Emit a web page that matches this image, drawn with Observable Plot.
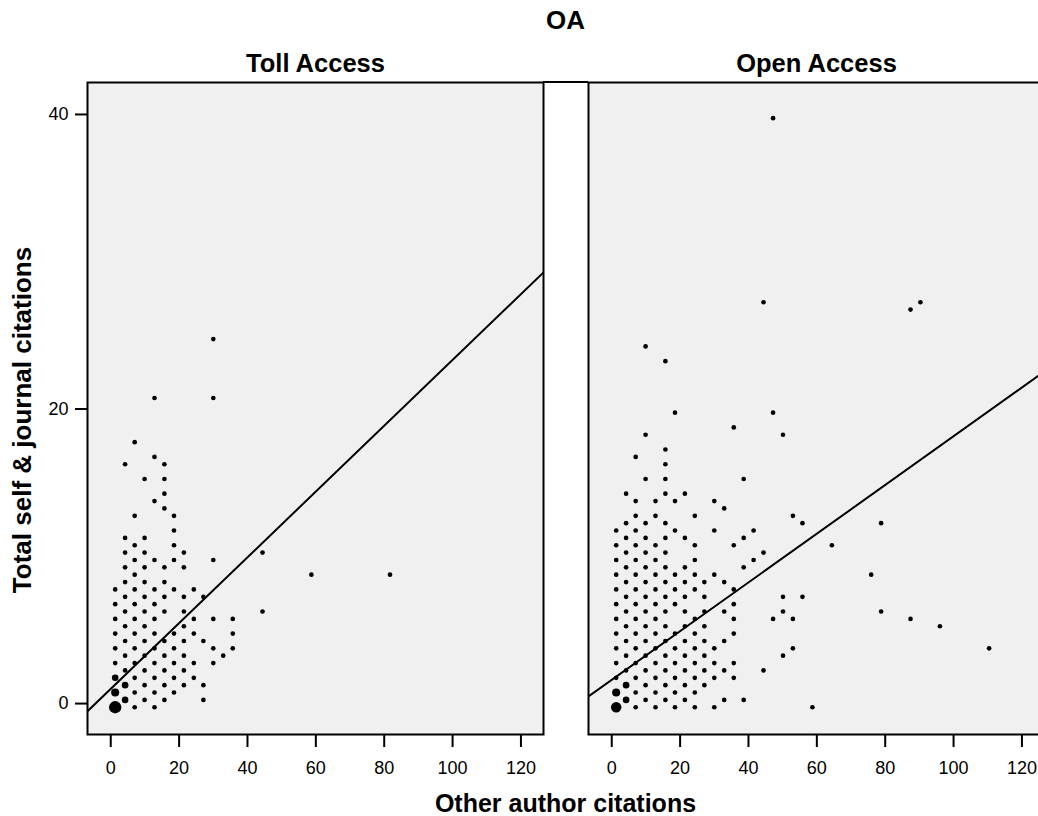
<!DOCTYPE html>
<html>
<head>
<meta charset="utf-8">
<script src="https://cdn.jsdelivr.net/npm/d3@7"></script>
<script src="https://cdn.jsdelivr.net/npm/@observablehq/plot@0.6"></script>
<style>
  body { margin: 0; background: #fff; font-family: "Liberation Sans", Arial, sans-serif; }
  #wrap { position: relative; width: 1038px; height: 816px; overflow: hidden; background: #fff; }
  .lbl { position: absolute; font-weight: bold; font-size: 25.5px; text-align: center; color: #000; white-space: nowrap; }
  #title { left: 87px; width: 957px; top: 8px; line-height: 24px; font-size: 26px; }
  #xlabel { left: 87px; width: 957px; top: 793px; line-height: 20px; font-size: 25px; }
  #ylabel { left: -308px; width: 660px; top: 407px; line-height: 26px; font-size: 26px; transform: rotate(-90deg); }
  #chart { position: absolute; left: 0; top: 40px; width: 1044px; }
  #chart svg { max-width: none !important; width: 1044px !important; height: 745px !important; }
  #joint { position: absolute; left: 543px; top: 81px; width: 45px; height: 2px; background: #000; }
  #chart svg [aria-label="x-axis tick"], #chart svg [aria-label="y-axis tick"] { stroke-width: 2; }
</style>
</head>
<body>
<div id="wrap">
  <div id="title" class="lbl">OA</div>
  <div id="chart"></div>
  <div id="joint"></div>
  <div id="xlabel" class="lbl">Other author citations</div>
  <div id="ylabel" class="lbl">Total self &amp; journal citations</div>
</div>
<script>
// Facet categories
const groups = ["Toll Access", "Open Access"];

// Tick labels
const xTicks = [0, 20, 40, 60, 80, 100, 120];
const yTicks = [0, 20, 40];

// Toll Access: each row is [y value, list of x values of the dots on that row]
const tollRows = [
  [-0.25, [1.3, 7.0, 12.8]],
  [0.25, [4.2, 9.9, 15.7, 27.1]],
  [0.75, [1.3, 7.0, 12.8, 18.5]],
  [1.25, [4.2, 9.9, 15.7, 21.4, 27.1]],
  [1.75, [1.3, 7.0, 12.8, 18.5, 24.3]],
  [2.25, [4.2, 9.9, 15.7, 21.4]],
  [2.75, [1.3, 7.0, 12.8, 18.5, 24.3, 30.0]],
  [3.25, [4.2, 9.9, 15.7, 21.4, 32.9]],
  [3.75, [1.3, 7.0, 12.8, 18.5, 30.0, 35.7]],
  [4.25, [4.2, 9.9, 15.7, 21.4, 27.1]],
  [4.75, [1.3, 7.0, 12.8, 18.5, 24.3, 35.7]],
  [5.25, [4.2, 9.9, 21.4]],
  [5.75, [1.3, 7.0, 12.8, 24.3, 30.0, 35.7]],
  [6.25, [4.2, 9.9, 15.7, 21.4, 44.4]],
  [6.75, [1.3, 7.0, 12.8]],
  [7.25, [4.2, 9.9, 15.7, 21.4, 27.1]],
  [7.75, [1.3, 7.0, 12.8, 18.5, 24.3]],
  [8.25, [4.2, 9.9, 15.7]],
  [8.75, [7.0, 58.7, 81.7]],
  [9.25, [4.2, 9.9, 15.7, 21.4]],
  [9.75, [7.0, 12.8, 18.5, 30.0]],
  [10.25, [4.2, 9.9, 21.4, 44.4]],
  [10.75, [7.0, 18.5]],
  [11.25, [4.2, 9.9]],
  [11.75, [18.5]],
  [12.75, [7.0, 18.5]],
  [13.25, [15.7]],
  [13.75, [12.8]],
  [14.25, [15.7]],
  [15.25, [9.9, 15.7]],
  [16.25, [4.2, 15.7]],
  [16.75, [12.8]],
  [17.75, [7.0]],
  [20.75, [12.8, 30.0]],
  [24.75, [30.0]]
];

// Open Access rows
const openRows = [
  [-0.25, [1.3, 7.0, 12.8, 18.5, 24.3, 30.0, 58.7]],
  [0.25, [4.2, 9.9, 15.7, 21.4, 32.9, 38.6]],
  [0.75, [1.3, 7.0, 12.8, 18.5, 24.3]],
  [1.25, [4.2, 9.9, 15.7, 21.4, 27.1]],
  [1.75, [1.3, 7.0, 12.8, 18.5, 24.3, 30.0, 35.7]],
  [2.25, [4.2, 9.9, 15.7, 21.4, 27.1, 32.9, 44.4]],
  [2.75, [1.3, 7.0, 12.8, 18.5, 24.3, 30.0, 35.7]],
  [3.25, [4.2, 9.9, 15.7, 21.4, 27.1, 50.1]],
  [3.75, [1.3, 7.0, 12.8, 18.5, 24.3, 30.0, 53.0, 110.4]],
  [4.25, [4.2, 9.9, 15.7, 21.4, 27.1, 32.9]],
  [4.75, [1.3, 7.0, 12.8, 18.5, 24.3, 35.7]],
  [5.25, [4.2, 9.9, 15.7, 21.4, 27.1, 96.0]],
  [5.75, [1.3, 7.0, 12.8, 24.3, 35.7, 47.2, 53.0, 87.4]],
  [6.25, [4.2, 9.9, 15.7, 21.4, 27.1, 32.9, 50.1, 78.8]],
  [6.75, [1.3, 7.0, 12.8, 18.5, 35.7]],
  [7.25, [4.2, 9.9, 15.7, 21.4, 27.1, 50.1, 55.8]],
  [7.75, [1.3, 7.0, 12.8, 18.5, 24.3, 35.7]],
  [8.25, [4.2, 9.9, 15.7, 21.4, 27.1, 32.9]],
  [8.75, [1.3, 7.0, 12.8, 18.5, 24.3, 30.0, 75.9]],
  [9.25, [4.2, 9.9, 15.7, 21.4, 38.6]],
  [9.75, [1.3, 7.0, 12.8, 24.3, 41.5]],
  [10.25, [4.2, 9.9, 15.7, 44.4]],
  [10.75, [1.3, 7.0, 12.8, 24.3, 35.7, 64.4]],
  [11.25, [4.2, 9.9, 15.7, 21.4, 38.6]],
  [11.75, [1.3, 7.0, 18.5, 30.0, 41.5]],
  [12.25, [4.2, 9.9, 15.7, 55.8, 78.8]],
  [12.75, [7.0, 12.8, 24.3, 53.0]],
  [13.25, [32.9]],
  [13.75, [7.0, 12.8, 18.5, 30.0]],
  [14.25, [4.2, 15.7, 21.4]],
  [15.25, [9.9, 15.7, 38.6]],
  [16.25, [15.7]],
  [16.75, [7.0]],
  [17.25, [15.7]],
  [18.25, [9.9, 50.1]],
  [18.75, [35.7]],
  [19.75, [18.5, 47.2]],
  [23.25, [15.7]],
  [24.25, [9.9]],
  [26.75, [87.4]],
  [27.25, [44.4, 90.3]],
  [39.75, [47.2]]
];

// Dots standing for more than one article: [x, y, count]
const tollCounts = [[1.3, -0.25, 7], [1.3, 0.75, 3], [4.2, 0.25, 2], [4.2, 1.25, 2], [1.3, 1.75, 2]];
const openCounts = [[1.3, -0.25, 5], [1.3, 0.75, 3], [4.2, 0.25, 2], [4.2, 1.25, 2]];

// Fit lines
const fitIntercepts = [1.0, 1.61];
const fitSlopes = [0.2233, 0.1654];

const xDomain = [-6.8, 126.6];
const yDomain = [-2.1, 42.17];

function flatten(rows, counts, oa) {
  const out = [];
  for (const [y, xs] of rows) {
    for (const x of xs) {
      const c = counts.find(d => d[0] === x && d[1] === y);
      out.push({oa, x, y, n: c ? c[2] : 1});
    }
  }
  return out;
}
const points = [
  ...flatten(tollRows, tollCounts, groups[0]),
  ...flatten(openRows, openCounts, groups[1])
];
const fitPoints = groups.flatMap((oa, i) =>
  xDomain.map(x => ({oa, x, y: fitIntercepts[i] + fitSlopes[i] * x})));

const chart = Plot.plot({
  width: 1044,
  height: 745,
  marginLeft: 87,
  marginRight: 0,
  marginTop: 42,
  marginBottom: 51,
  style: {fontFamily: "Liberation Sans, Arial, sans-serif", fontSize: "18px", color: "black", background: "transparent", overflow: "visible", maxWidth: "none"},
  fx: {domain: groups, paddingInner: 0.0898, paddingOuter: 0, round: false, label: null},
  x: {domain: xDomain, ticks: xTicks, tickSize: 13, tickPadding: 14, label: null},
  y: {domain: yDomain, ticks: yTicks, tickSize: 12, tickPadding: 7, label: null},
  r: {type: "sqrt", domain: [0, 9], range: [0, 7]},
  marks: [
    Plot.frame({fill: "#f0f0f0"}),
    Plot.dot(points, {fx: "oa", x: "x", y: "y", r: "n", fill: "black", stroke: "none"}),
    Plot.line(fitPoints, {fx: "oa", x: "x", y: "y", stroke: "black", strokeWidth: 2, clip: true}),
    Plot.frame({stroke: "black", strokeWidth: 2}),
    Plot.axisFx({anchor: "top", tickSize: 0, tickPadding: 11, fontSize: 25.5, fontWeight: "bold", label: null})
  ]
});
document.getElementById("chart").appendChild(chart);
</script>
</body>
</html>
